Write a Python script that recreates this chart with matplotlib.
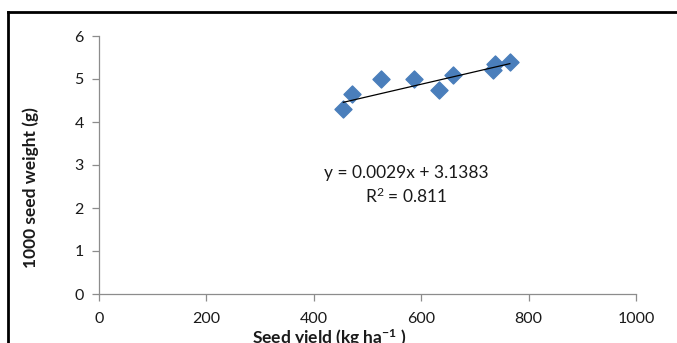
import matplotlib
matplotlib.use("Agg")
import matplotlib.pyplot as plt
from matplotlib.lines import Line2D

seed_yield = [455, 472, 525, 587, 633, 659, 734, 737, 765]
seed_weight = [4.31, 4.66, 5.01, 5.0, 4.75, 5.1, 5.21, 5.36, 5.39]
slope = 0.0029
intercept = 3.1383
x_ticks = [0, 200, 400, 600, 800, 1000]
y_ticks = [0, 1, 2, 3, 4, 5, 6]

plt.rcParams['font.family'] = ['Lato', 'DejaVu Sans']
plt.rcParams['mathtext.default'] = 'regular'

W, H = 677, 343
fig = plt.figure(figsize=(W / 100, H / 100), dpi=100)
ax = fig.add_axes([99 / W, 1 - 294 / H, (636 - 99) / W, (294 - 36) / H])

ax.scatter(seed_yield, seed_weight, marker='D', s=75, color='#4a7ebb',
           edgecolors='#4a7ebb', zorder=3)
xs = [min(seed_yield), max(seed_yield)]
ax.plot(xs, [slope * v + intercept for v in xs], color='black', lw=0.9, zorder=4)

ax.set_xlim(0, 1000)
ax.set_ylim(0, 6)
ax.set_xticks(x_ticks)
ax.set_yticks(y_ticks)
for s in ['top', 'right']:
    ax.spines[s].set_visible(False)
for s in ['left', 'bottom']:
    ax.spines[s].set_color('#8c8c8c')
    ax.spines[s].set_linewidth(0.9)
ax.tick_params(axis='both', colors='#8c8c8c', length=5, width=0.9,
               labelsize=11.5, labelcolor='#1a1a1a')
ax.tick_params(axis='x', pad=8)
ax.tick_params(axis='y', pad=6)

ax.text(572, 2.81, 'y = 0.0029x + 3.1383', ha='center', va='center', fontsize=12.5, color='#1a1a1a')
ax.text(572, 2.28, 'R$^2$ = 0.811', ha='center', va='center', fontsize=12.5, color='#1a1a1a')

fig.text(31 / W, 1 - 188 / H, '1000 seed weight (g)', rotation=90, ha='center', va='center',
         fontsize=12.5, fontweight='bold', color='#1a1a1a')
fig.text(329 / W, 1 - 338 / H, 'Seed yield (kg ha$^{-1}$ )', ha='center', va='center',
         fontsize=12.5, fontweight='bold', color='#1a1a1a')

fig.add_artist(Line2D([8 / W, 1], [1 - 12 / H, 1 - 12 / H], transform=fig.transFigure,
                      color='black', lw=2))
fig.add_artist(Line2D([8 / W, 8 / W], [0, 1 - 12 / H], transform=fig.transFigure,
                      color='black', lw=2))

fig.savefig('out.png', dpi=100)
